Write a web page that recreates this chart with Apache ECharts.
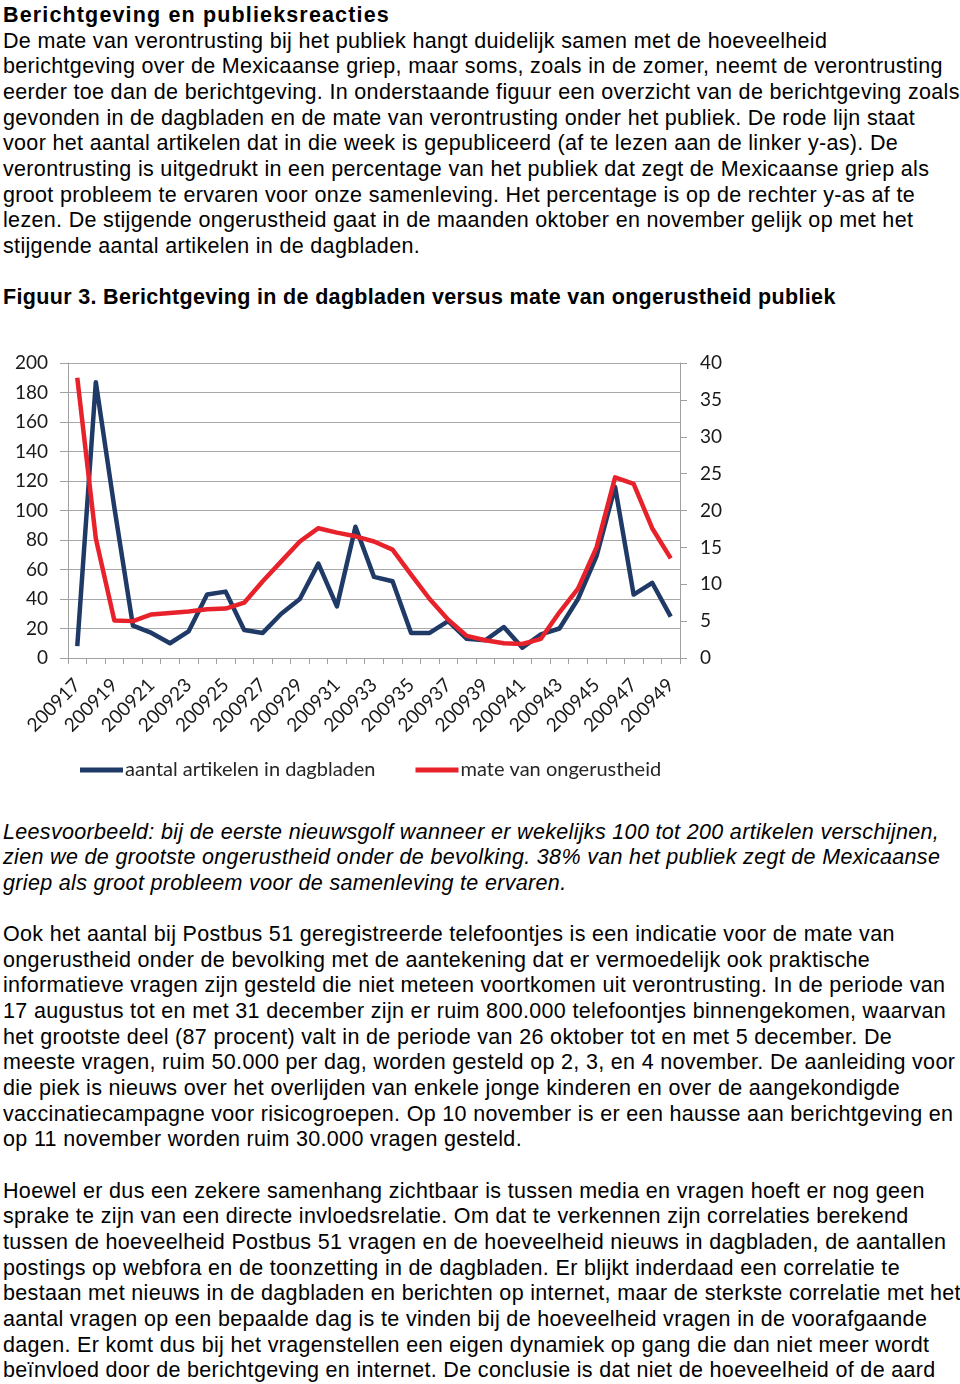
<!DOCTYPE html>
<html>
<head>
<meta charset="utf-8">
<script src="https://cdn.jsdelivr.net/npm/echarts@6/dist/echarts.min.js"></script>
<style>
  html, body { margin: 0; padding: 0; background: #fff; }
  body { width: 960px; height: 1384px; position: relative; overflow: hidden; }
  .txt { position: absolute; left: 3px; font-family: "Liberation Sans", Arial, Helvetica, sans-serif;
         font-size: 21.5px; letter-spacing: 0.33px; line-height: 25.65px; color: #000; white-space: nowrap; }
  .b { font-weight: bold; }
  .t { letter-spacing: 1.15px; }
  .i { font-style: italic; }
  #chart { position: absolute; left: 0; top: 330px; width: 960px; height: 470px; }
</style>
</head>
<body>
<div class="txt" style="top:3px">
<span class="b t">Berichtgeving en publieksreacties</span><br>
De mate van verontrusting bij het publiek hangt duidelijk samen met de hoeveelheid<br>
berichtgeving over de Mexicaanse griep, maar soms, zoals in de zomer, neemt de verontrusting<br>
eerder toe dan de berichtgeving. In onderstaande figuur een overzicht van de berichtgeving zoals<br>
gevonden in de dagbladen en de mate van verontrusting onder het publiek. De rode lijn staat<br>
voor het aantal artikelen dat in die week is gepubliceerd (af te lezen aan de linker y-as). De<br>
verontrusting is uitgedrukt in een percentage van het publiek dat zegt de Mexicaanse griep als<br>
groot probleem te ervaren voor onze samenleving. Het percentage is op de rechter y-as af te<br>
lezen. De stijgende ongerustheid gaat in de maanden oktober en november gelijk op met het<br>
stijgende aantal artikelen in de dagbladen.<br>
<br>
<span class="b">Figuur 3. Berichtgeving in de dagbladen versus mate van ongerustheid publiek</span>
</div>

<div id="chart"></div>

<div class="txt" style="top:819.5px">
<span class="i">Leesvoorbeeld: bij de eerste nieuwsgolf wanneer er wekelijks 100 tot 200 artikelen verschijnen,</span><br>
<span class="i">zien we de grootste ongerustheid onder de bevolking. 38% van het publiek zegt de Mexicaanse</span><br>
<span class="i">griep als groot probleem voor de samenleving te ervaren.</span><br>
<br>
Ook het aantal bij Postbus 51 geregistreerde telefoontjes is een indicatie voor de mate van<br>
ongerustheid onder de bevolking met de aantekening dat er vermoedelijk ook praktische<br>
informatieve vragen zijn gesteld die niet meteen voortkomen uit verontrusting. In de periode van<br>
17 augustus tot en met 31 december zijn er ruim 800.000 telefoontjes binnengekomen, waarvan<br>
het grootste deel (87 procent) valt in de periode van 26 oktober tot en met 5 december. De<br>
meeste vragen, ruim 50.000 per dag, worden gesteld op 2, 3, en 4 november. De aanleiding voor<br>
die piek is nieuws over het overlijden van enkele jonge kinderen en over de aangekondigde<br>
vaccinatiecampagne voor risicogroepen. Op 10 november is er een hausse aan berichtgeving en<br>
op 11 november worden ruim 30.000 vragen gesteld.<br>
<br>
Hoewel er dus een zekere samenhang zichtbaar is tussen media en vragen hoeft er nog geen<br>
sprake te zijn van een directe invloedsrelatie. Om dat te verkennen zijn correlaties berekend<br>
tussen de hoeveelheid Postbus 51 vragen en de hoeveelheid nieuws in dagbladen, de aantallen<br>
postings op webfora en de toonzetting in de dagbladen. Er blijkt inderdaad een correlatie te<br>
bestaan met nieuws in de dagbladen en berichten op internet, maar de sterkste correlatie met het<br>
aantal vragen op een bepaalde dag is te vinden bij de hoeveelheid vragen in de voorafgaande<br>
dagen. Er komt dus bij het vragenstellen een eigen dynamiek op gang die dan niet meer wordt<br>
beïnvloed door de berichtgeving en internet. De conclusie is dat niet de hoeveelheid of de aard
</div>

<script>
// Weeks 2009-17 .. 2009-49
var weeks = ['200917','200918','200919','200920','200921','200922','200923','200924','200925','200926',
             '200927','200928','200929','200930','200931','200932','200933','200934','200935','200936',
             '200937','200938','200939','200940','200941','200942','200943','200944','200945','200946',
             '200947','200948','200949'];
// Number of articles in newspapers (left axis)
var artikelen = [8, 187, 102, 22, 17, 10, 18, 43, 45, 19,
                 17, 30, 40, 64, 35, 89, 55, 52, 17, 17,
                 25, 13, 12, 21, 7, 16, 20, 40, 69, 116,
                 43, 51, 28];
// Level of concern, % (right axis)
var ongerustheid = [38, 16.2, 5.1, 5.0, 5.9, 6.1, 6.3, 6.6, 6.7, 7.5,
                    10.4, 13.1, 15.8, 17.6, 17.0, 16.5, 15.8, 14.7, 11.3, 8.0,
                    5.2, 3.0, 2.4, 2.0, 1.9, 2.6, 6.2, 9.4, 15.0, 24.5,
                    23.6, 17.6, 13.5];
var seriesNames = ['aantal artikelen in dagbladen', 'mate van ongerustheid'];

var chart = echarts.init(document.getElementById('chart'), null, {renderer: 'canvas'});
var FONT = 'Lato, "Open Sans", sans-serif';
var axisGray = '#a0a0a0';
var blue = '#1f3a66';
var red = '#e8222b';
chart.setOption({
  animation: false,
  backgroundColor: '#fff',
  grid: { left: 68, top: 33, width: 612, height: 295, containLabel: false },
  legend: {
    left: 75, top: 425,
    itemWidth: 43, itemHeight: 5, itemGap: 40,
    icon: 'rect',
    textStyle: { fontFamily: FONT, fontSize: 20, color: '#262626', padding: [0, 0, 0, -3] },
    data: seriesNames
  },
  xAxis: {
    type: 'category',
    data: weeks,
    boundaryGap: true,
    axisLine: { show: true, lineStyle: { color: axisGray, width: 1 } },
    axisTick: { show: true, interval: 0, length: 6, lineStyle: { color: axisGray } },
    axisLabel: { interval: 1, rotate: 45, margin: 24, fontFamily: FONT, fontSize: 19, color: '#1a1a1a' },
    splitLine: { show: false }
  },
  yAxis: [
    {
      type: 'value', min: 0, max: 200, interval: 20, position: 'left',
      axisLine: { show: true, lineStyle: { color: axisGray } },
      axisTick: { show: true, length: 8, lineStyle: { color: axisGray } },
      axisLabel: { margin: 20, fontFamily: FONT, fontSize: 19, color: '#1a1a1a' },
      splitLine: { show: true, lineStyle: { color: '#a8a8a8', width: 1 } }
    },
    {
      type: 'value', min: 0, max: 40, interval: 5, position: 'right',
      axisLine: { show: true, lineStyle: { color: axisGray } },
      axisTick: { show: true, length: 7, lineStyle: { color: axisGray } },
      axisLabel: { margin: 20, fontFamily: FONT, fontSize: 19, color: '#1a1a1a' },
      splitLine: { show: false }
    }
  ],
  series: [
    {
      name: seriesNames[0], type: 'line', yAxisIndex: 0, data: artikelen,
      symbol: 'none', lineStyle: { color: blue, width: 4.5, join: 'round' }, itemStyle: { color: blue }
    },
    {
      name: seriesNames[1], type: 'line', yAxisIndex: 1, data: ongerustheid,
      symbol: 'none', lineStyle: { color: red, width: 4.5, join: 'round' }, itemStyle: { color: red }
    }
  ]
});
</script>
</body>
</html>
